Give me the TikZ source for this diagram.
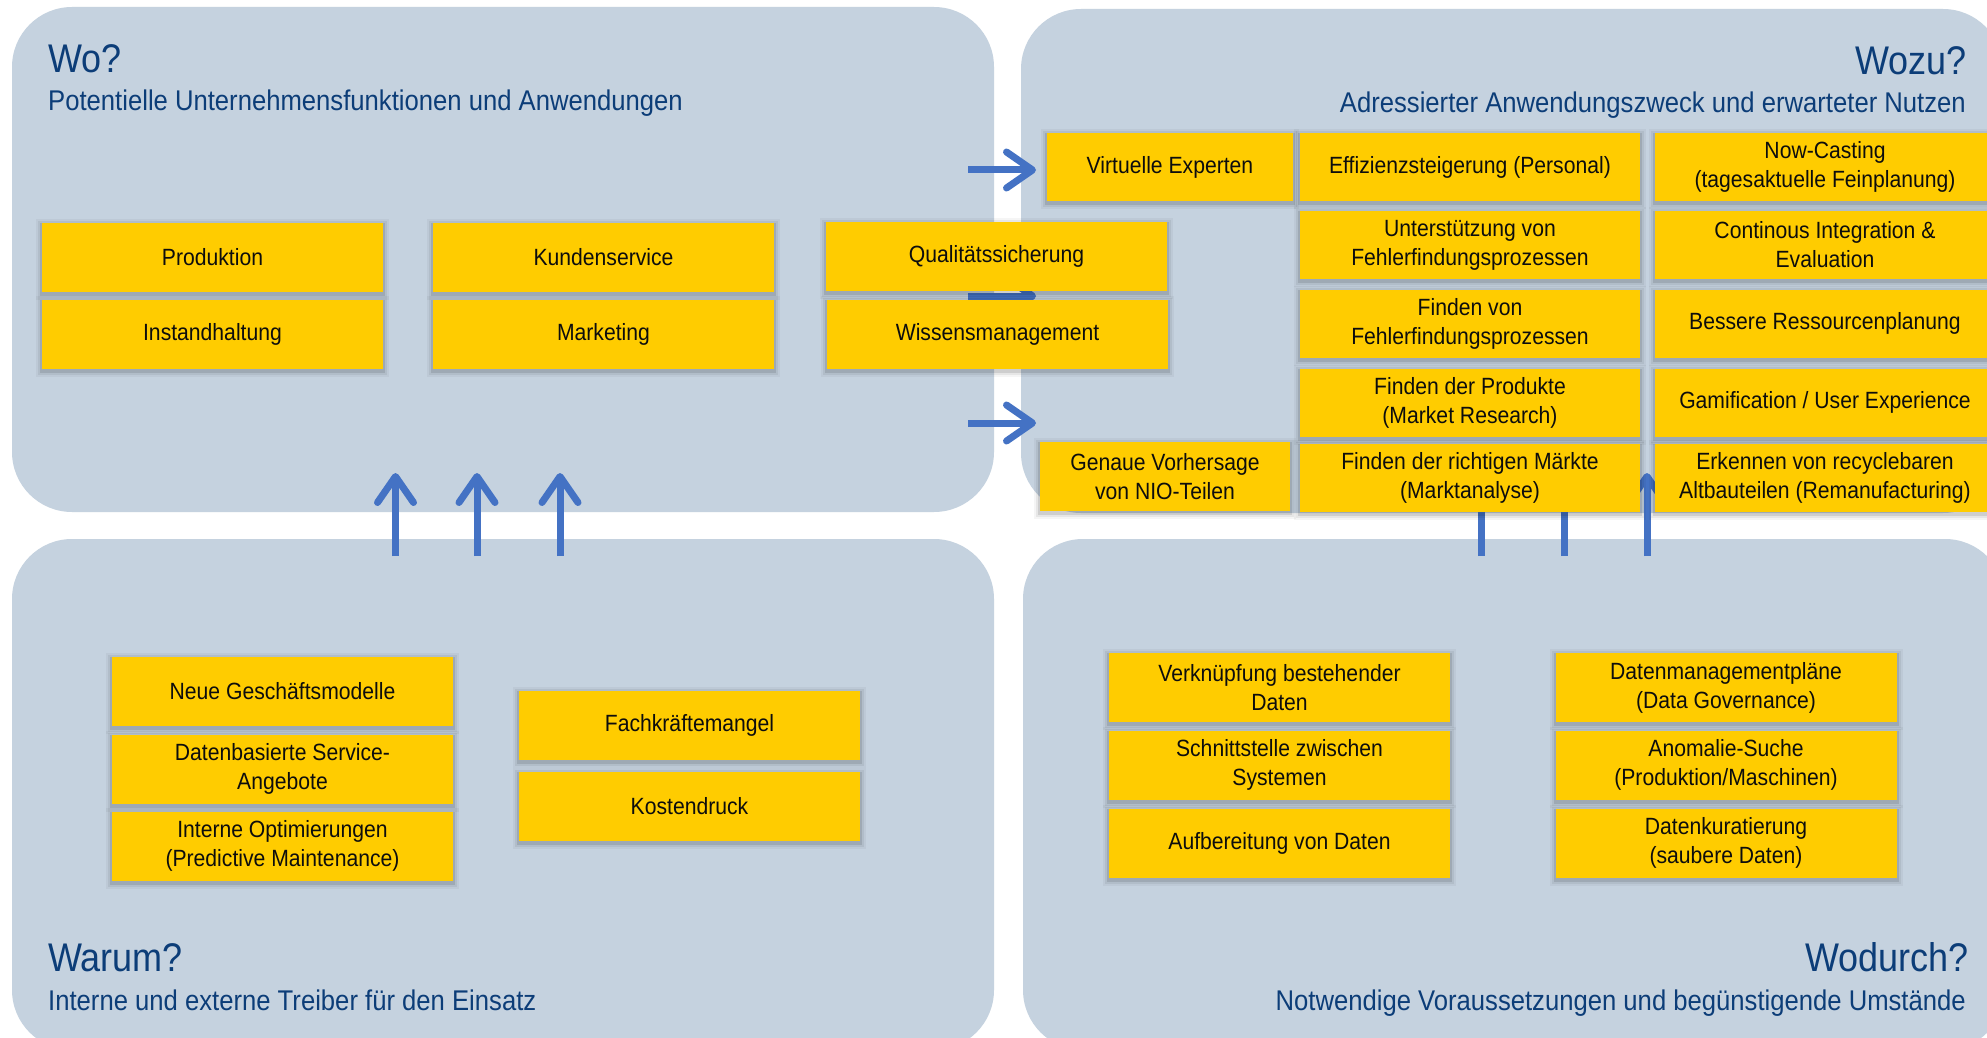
\documentclass[tikz,border=0pt]{standalone}
\usepackage{fontspec}
\setmainfont{Liberation Sans}[FakeStretch=0.9]
\usetikzlibrary{arrows.meta,shadows}
\definecolor{panelbg}{RGB}{197,210,223}
\definecolor{yel}{RGB}{255,204,0}
\definecolor{navy}{RGB}{12,61,120}
\definecolor{arrowblue}{RGB}{68,114,196}
\begin{document}
\begin{tikzpicture}[x=1pt,y=-1pt,
  panel/.style={fill=panelbg, draw=none, rounded corners=60pt},
  softshadow/.style={
     general shadow={shadow xshift=0pt, shadow yshift=-2pt, draw=black, line width=12pt, opacity=0.04},
     general shadow={shadow xshift=0pt, shadow yshift=-2pt, draw=black, line width=8pt, opacity=0.06},
     general shadow={shadow xshift=0pt, shadow yshift=-2pt, draw=black, line width=4pt, opacity=0.1}},
  box/.style={fill=yel, draw=none, minimum width=341pt, minimum height=69pt, inner sep=0pt, align=center,
     font=\fontsize{23.5}{29}\selectfont, text=black!95, softshadow},
  ttl/.style={inner sep=0pt, text=navy, font=\fontsize{40}{44}\selectfont},
  sub/.style={inner sep=0pt, text=navy, font=\fontsize{28.5}{32}\selectfont},
  flow/.style={draw=arrowblue, line width=7pt, -{Straight Barb[length=26pt,width=36pt,round]}}
]
\clip (0,0) rectangle (1987,1038);
\fill[white] (0,0) rectangle (1987,1038);
% panels
\path[panel] (12,7) rectangle (994,512);
\path[panel] (1021,9) rectangle (2003,513);
\path[panel] (12,539) rectangle (994,1050);
\path[panel] (1023,539) rectangle (2005,1050);
% titles
\node[ttl, anchor=base west] (t1) at (48,73) {Wo?};
\node[sub, anchor=base west] (s1) at (48,111) {Potentielle Unternehmensfunktionen und Anwendungen};
\node[ttl, anchor=base east] (t2) at (1967,75) {Wozu?};
\node[sub, anchor=base east] (s2) at (1966,113) {Adressierter Anwendungszweck und erwarteter Nutzen};
\node[ttl, anchor=base west] (t3) at (48,971) {Warum?};
\node[sub, anchor=base west] (s3) at (48,1010) {Interne und externe Treiber für den Einsatz};
\node[ttl, anchor=base east] (t4) at (1969,971) {Wodurch?};
\node[sub, anchor=base east] (s4) at (1966,1010) {Notwendige Voraussetzungen und begünstigende Umstände};
% arrow coordinates
\coordinate (h1s) at (968,170); \coordinate (h1e) at (1036,170);
\coordinate (h2s) at (968,296); \coordinate (h2e) at (1036,296);
\coordinate (h3s) at (968,423); \coordinate (h3e) at (1036,423);
\coordinate (v1s) at (395.5,556); \coordinate (v1e) at (395.5,473);
\coordinate (v2s) at (477,556); \coordinate (v2e) at (477,473);
\coordinate (v3s) at (560,556); \coordinate (v3e) at (560,473);
\coordinate (v4s) at (1481.5,556); \coordinate (v4e) at (1481.5,473);
\coordinate (v5s) at (1564,556); \coordinate (v5e) at (1564,473);
\coordinate (v6s) at (1647,556); \coordinate (v6e) at (1647,473);
\foreach \a in {h1,h2,h3,v1,v2,v3,v4,v5,v6} \draw[flow] (\a s) -- (\a e);
% top-left boxes
\node[box] (prod) at (212.5,257.5) {Produktion};
\node[box] (inst) at (212.5,334.5) {Instandhaltung};
\node[box] (kund) at (603.5,257.5) {Kundenservice};
\node[box] (mark) at (603.5,334.5) {Marketing};
\node[box] (qual) at (996.5,256.5) {Qualitätssicherung};
\node[box] (wiss) at (997.5,334.5) {Wissensmanagement};
% top-right boxes
\node[box, minimum width=246pt, minimum height=68pt] (virt) at (1170,167) {Virtuelle Experten};
\node[box, minimum width=250pt] (gen) at (1165,476.5) {Genaue Vorhersage\\von NIO-Teilen};
\node[box, minimum width=340pt, minimum height=68pt] (eff) at (1470,167) {Effizienzsteigerung (Personal)};
\node[box, minimum width=340pt, minimum height=68pt] (unt) at (1470,245) {Unterstützung von\\Fehlerfindungsprozessen};
\node[box, minimum width=340pt, minimum height=68pt] (fvon) at (1470,323.5) {Finden von\\Fehlerfindungsprozessen};
\node[box, minimum width=340pt, minimum height=68pt] (fprod) at (1470,402.5) {Finden der Produkte\\(Market Research)};
\node[box, minimum width=340pt, minimum height=68pt] (fmark) at (1470,478) {Finden der richtigen Märkte\\(Marktanalyse)};
\node[box, minimum width=340pt, minimum height=68pt] (now) at (1825,167) {Now-Casting\\(tagesaktuelle Feinplanung)};
\node[box, minimum width=340pt, minimum height=68pt] (ci) at (1825,245) {Continous Integration \&\\Evaluation};
\node[box, minimum width=340pt, minimum height=68pt] (ress) at (1825,323.5) {Bessere Ressourcenplanung};
\node[box, minimum width=340pt, minimum height=68pt] (gam) at (1825,402.5) {Gamification / User Experience};
\node[box, minimum width=340pt, minimum height=68pt] (erk) at (1825,478) {Erkennen von recyclebaren\\Altbauteilen (Remanufacturing)};
% bottom-left boxes
\node[box] (neue) at (282.5,691.5) {Neue Geschäftsmodelle};
\node[box] (daten) at (282.5,769) {Datenbasierte Service-\\Angebote};
\node[box] (intern) at (282.5,846) {Interne Optimierungen\\(Predictive Maintenance)};
\node[box] (fach) at (689.5,725.5) {Fachkräftemangel};
\node[box] (kost) at (689.5,806.5) {Kostendruck};
% bottom-right boxes
\node[box] (verk) at (1279.5,687.5) {Verknüpfung bestehender\\Daten};
\node[box] (schn) at (1279.5,765) {Schnittstelle zwischen\\Systemen};
\node[box] (aufb) at (1279.5,843) {Aufbereitung von Daten};
\node[box] (dmp) at (1726,687.5) {Datenmanagementpläne\\(Data Governance)};
\node[box] (anom) at (1726,765) {Anomalie-Suche\\(Produktion/Maschinen)};
\node[box] (kur) at (1726,843) {Datenkuratierung\\(saubere Daten)};
\end{tikzpicture}
\end{document}
